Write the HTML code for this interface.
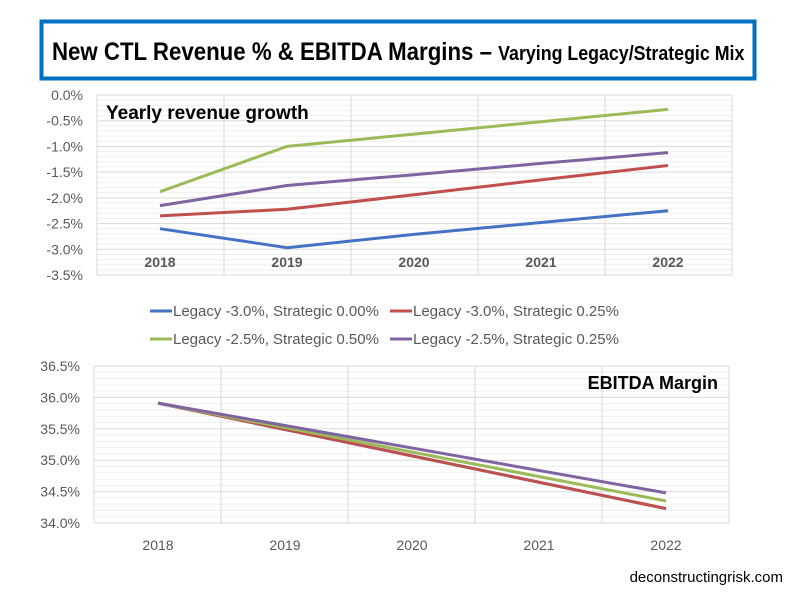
<!DOCTYPE html>
<html><head><meta charset="utf-8"><style>
html,body{margin:0;padding:0;background:#fff;width:800px;height:600px;overflow:hidden}
text{font-family:"Liberation Sans",sans-serif}
</style></head><body>
<svg width="800" height="600" xmlns="http://www.w3.org/2000/svg">
<rect x="41.5" y="21.5" width="713" height="57" fill="#fff" stroke="#0070c0" stroke-width="4"/>
<text x="52" y="60" font-size="25" font-weight="bold" transform="translate(52,0) scale(0.89,1) translate(-52,0)">New CTL Revenue % &amp; EBITDA Margins – <tspan font-size="20">Varying Legacy/Strategic Mix</tspan></text>
<g id="top"></g>
<g id="bot"></g>
<script>
(function(){
var ns="http://www.w3.org/2000/svg";
function el(p,t,a,txt){var e=document.createElementNS(ns,t);for(var k in a)e.setAttribute(k,a[k]);if(txt)e.textContent=txt;p.appendChild(e);return e;}
var top=document.getElementById('top'),bot=document.getElementById('bot');
var x0=97,x1=732,y0=95,y1=275;
for(var i=0;i<=35;i++){var y=y0+i*(y1-y0)/35;el(top,'line',{x1:x0,x2:x1,y1:y,y2:y,stroke:i%5==0?'#d9d9d9':'#efefef','stroke-width':1});}
for(var j=0;j<=5;j++){var x=x0+j*(x1-x0)/5;el(top,'line',{x1:x,x2:x,y1:y0,y2:y1,stroke:'#d9d9d9','stroke-width':1});}
var yl=['0.0%','-0.5%','-1.0%','-1.5%','-2.0%','-2.5%','-3.0%','-3.5%'];
for(var i=0;i<8;i++)el(top,'text',{x:83,y:y0+i*(y1-y0)/7+5,'text-anchor':'end','font-size':14,fill:'#595959'},yl[i]);
var xs=[160,287,414,541,668],yr=['2018','2019','2020','2021','2022'];
for(var i=0;i<5;i++){el(top,'text',{x:xs[i],y:267,'text-anchor':'middle','font-size':14,'font-weight':'bold',fill:'#595959'},yr[i]);}
el(top,'text',{x:106,y:119,'font-size':19,'font-weight':'bold',fill:'#000'},'Yearly revenue growth');
var S=[['#4472c4',[228.7,247.7,234.4,222.5,210.7]],['#c0504d',[215.9,209.2,194.8,179.9,165.5]],['#9bbb59',[191.7,146.4,134.1,121.7,109.4]],['#8064a2',[205.6,185.5,174.7,163.4,152.6]]];
S.forEach(function(s){el(top,'polyline',{points:xs.map(function(x,i){return x+','+s[1][i]}).join(' '),fill:'none',stroke:s[0],'stroke-width':3,'stroke-linejoin':'round'});});
var L=[[150,311,'#4472c4','Legacy -3.0%, Strategic 0.00%'],[390,311,'#c0504d','Legacy -3.0%, Strategic 0.25%'],[150,339,'#9bbb59','Legacy -2.5%, Strategic 0.50%'],[390,339,'#8064a2','Legacy -2.5%, Strategic 0.25%']];
L.forEach(function(l){el(top,'line',{x1:l[0],x2:l[0]+22,y1:l[1],y2:l[1],stroke:l[2],'stroke-width':3});el(top,'text',{x:l[0]+23,y:l[1]+5,'font-size':15,fill:'#595959'},l[3]);});
var bx0=94,bx1=729,by0=366,by1=523;
for(var i=0;i<=25;i++){var y=by0+i*(by1-by0)/25;el(bot,'line',{x1:bx0,x2:bx1,y1:y,y2:y,stroke:i%5==0?'#d9d9d9':'#efefef','stroke-width':1});}
for(var j=0;j<=5;j++){var x=bx0+j*(bx1-bx0)/5;el(bot,'line',{x1:x,x2:x,y1:by0,y2:by1,stroke:'#d9d9d9','stroke-width':1});}
var bl=['36.5%','36.0%','35.5%','35.0%','34.5%','34.0%'];
for(var i=0;i<6;i++)el(bot,'text',{x:80,y:by0+i*(by1-by0)/5+5,'text-anchor':'end','font-size':14,fill:'#595959'},bl[i]);
var bxs=[158,285,412,539,666];
for(var i=0;i<5;i++)el(bot,'text',{x:bxs[i],y:550,'text-anchor':'middle','font-size':14,fill:'#595959'},yr[i]);
el(bot,'text',{x:718,y:389,'text-anchor':'end','font-size':18,'font-weight':'bold',fill:'#000'},'EBITDA Margin');
[['#4472c4',508.6],['#c0504d',508.6],['#9bbb59',501],['#8064a2',492.9]].forEach(function(s){el(bot,'line',{x1:158,y1:403.1,x2:666,y2:s[1],stroke:s[0],'stroke-width':3});});
el(bot,'text',{x:783,y:582,'text-anchor':'end','font-size':15,fill:'#000'},'deconstructingrisk.com');
})();
</script>
</svg>
</body></html>
